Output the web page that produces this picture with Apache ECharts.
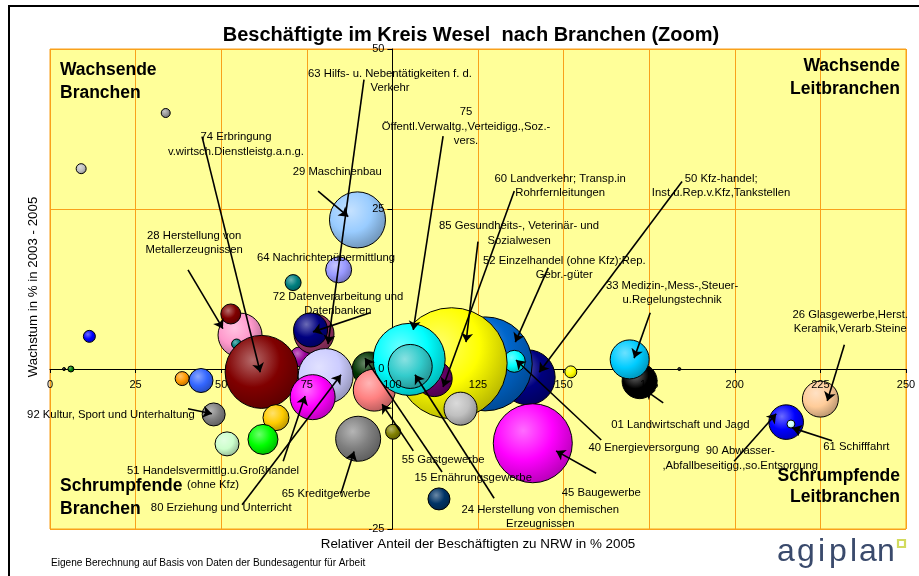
<!DOCTYPE html>
<html>
<head>
<meta charset="utf-8">
<script src="https://cdn.jsdelivr.net/npm/echarts@6/dist/echarts.min.js"></script>
<style>
  html, body { margin: 0; padding: 0; background: #ffffff; }
  #chart { width: 919px; height: 576px; }
</style>
</head>
<body>
<div id="chart"></div>
<script>
// ---------------------------------------------------------------
// Beschäftigte im Kreis Wesel nach Branchen (Zoom)
// x: relativer Anteil der Beschäftigten zu NRW in % (2005)
// y: Wachstum der Beschäftigten in % 2003 - 2005
// bubble: relative Größe (Fläche) der Branche
// Reihenfolge = Zeichenreihenfolge (hinten nach vorne)
// ---------------------------------------------------------------
const anteilNRW = [
  55.5, 54.5, 52.8, 73.0, 61.8, 66.0, 62.2, 51.7, 47.8, 38.6,
  44.1, 11.5, 6.1, 4.1, 33.8, 9.1, 77.1, 76.1, 93.2, 80.5,
  76.7, 71.0, 84.3, 89.8, 90.0, 94.7, 98.4, 100.2, 139.5, 127.1,
  135.6, 117.3, 112.2, 119.9, 104.9, 105.2, 141.0, 113.6, 152.1, 172.2,
  169.3, 183.8, 215.0, 216.4, 225.0
];
const wachstum = [
  5.3, 3.9, 8.6, 1.9, -0.45, -7.6, -11.0, -11.7, -7.1, -1.5,
  -1.8, 5.1, 0.0, 0.0, 40.0, 31.3, 5.5, 6.1, 0.0, -1.1,
  -4.4, 13.5, 15.5, 23.3, -10.9, -3.3, -1.2, -9.8, -1.3, 0.8,
  1.2, 0.9, -1.5, -6.2, 1.5, 0.4, -11.6, -20.3, -0.45, -1.9,
  1.5, 0.0, -8.3, -8.6, -4.7
];
const bubbleSize = [
  1936, 100, 400, 400, 5329, 676, 900, 576, 529, 196,
  576, 144, 36, 9, 81, 100, 1600, 1156, 1156, 3025,
  2025, 256, 676, 3136, 2025, 1764, 100, 225, 3025, 8836,
  484, 12321, 1296, 1089, 5184, 1936, 6241, 484, 144, 1225,
  1521, 9, 1197, 64, 1296
];

// Achsen-Teilung
const xTickLabels = [0, 25, 50, 75, 100, 125, 150, 175, 200, 225, 250];
const yTickLabels = [-25, 0, 25, 50];
const yAxisCrossesAt = 100;
const xAxisCrossesAt = 0;

// Beschriftungen der Branchen mit Zeigerpfeil (Datenkoordinaten)
const annotations = [
  { text: '63 Hilfs- u. Nebentätigkeiten f. d.\nVerkehr', at: [99.3, 45.0], from: [91.7, 45.2], to: [81.2, 3.9] },
  { text: '75\nÖffentl.Verwaltg.,Verteidigg.,Soz.-\nvers.', at: [121.5, 37.9], from: [114.8, 36.4], to: [106.1, 6.1] },
  { text: '74 Erbringung\nv.wirtsch.Dienstleistg.a.n.g.', at: [54.3, 35.1], from: [44.4, 36.3], to: [61.4, -0.5] },
  { text: '29 Maschinenbau', at: [83.9, 30.8], from: [78.3, 27.8], to: [87.1, 23.8] },
  { text: '28 Herstellung von\nMetallerzeugnissen', at: [42.1, 19.7], from: [40.3, 15.5], to: [50.5, 6.3] },
  { text: '64 Nachrichtenübermittlung', at: [80.6, 17.4] },
  { text: '72 Datenverarbeitung und\nDatenbanken', at: [84.1, 10.2], from: [93.5, 8.8], to: [76.8, 5.8] },
  { text: '60 Landverkehr; Transp.in\nRohrfernleitungen', at: [149.0, 28.6], from: [135.6, 27.8], to: [114.8, -2.8] },
  { text: '50 Kfz-handel;\nInst.u.Rep.v.Kfz,Tankstellen', at: [196.0, 28.6], from: [184.6, 29.3], to: [142.9, -0.5] },
  { text: '85 Gesundheits-, Veterinär- und\nSozialwesen', at: [137.0, 21.2], from: [125.0, 19.9], to: [121.5, 4.2] },
  { text: '52 Einzelhandel (ohne Kfz);Rep.\nGebr.-güter', at: [150.2, 15.8], from: [145.5, 15.8], to: [135.9, 4.2] },
  { text: '33 Medizin-,Mess-,Steuer-\nu.Regelungstechnik', at: [181.7, 11.9], from: [175.3, 8.8], to: [170.6, 1.7] },
  { text: '26 Glasgewerbe,Herst.\nKeramik,Verarb.Steine', at: [233.7, 7.4], from: [232.0, 3.8], to: [227.0, -5.0] },
  { text: '01 Landwirtschaft und Jagd', at: [184.1, -8.7], from: [179.1, -5.3], to: [173.8, -3.3] },
  { text: '40 Energieversorgung', at: [173.5, -12.3], from: [161.0, -11.1], to: [136.1, 1.4] },
  { text: '90 Abwasser-\n,Abfallbeseitigg.,so.Entsorgung', at: [201.6, -14.0], from: [199.8, -14.4], to: [212.1, -7.0] },
  { text: '61 Schifffahrt', at: [235.5, -12.2], from: [228.4, -11.2], to: [216.8, -9.2] },
  { text: '45 Baugewerbe', at: [161.0, -19.4], from: [159.5, -16.3], to: [147.8, -12.8] },
  { text: '24 Herstellung von chemischen\nErzeugnissen', at: [143.2, -23.1], from: [129.7, -20.2], to: [106.6, -0.9] },
  { text: '55 Gastgewerbe', at: [114.8, -14.2], from: [106.1, -12.8], to: [97.0, -5.5] },
  { text: '15 Ernährungsgewerbe', at: [123.6, -17.0], from: [114.5, -16.1], to: [92.0, 1.7] },
  { text: '92 Kultur, Sport und Unterhaltung', at: [17.8, -7.2], from: [40.3, -6.2], to: [47.3, -7.0] },
  { text: '51 Handelsvermittlg.u.Großhandel\n(ohne Kfz)', at: [47.6, -17.0], from: [68.1, -14.4], to: [74.5, -4.2] },
  { text: '65 Kreditgewerbe', at: [80.6, -19.5], from: [85.0, -19.4], to: [88.8, -12.9] },
  { text: '80 Erziehung und Unterricht', at: [50.0, -21.7], from: [56.1, -21.2], to: [85.0, -0.9] }
];

// ---------------------------------------------------------------
// Darstellung
// ---------------------------------------------------------------
const bubbleColors = [
  '#FF99CC', '#008080', '#800000', '#990099', '#800000', '#FFCC00', '#00FF00', '#CCFFCC', '#808080', '#FF9900',
  '#3366FF', '#0000FF', '#008000', '#000000', '#969696', '#C0C0C0', '#993366', '#000080', '#003300', '#CCCCFF',
  '#FF00FF', '#008080', '#9999FF', '#99CCFF', '#808080', '#FF8080', '#969696', '#808000', '#000080', '#0066CC',
  '#00FFFF', '#FFFF00', '#660066', '#C0C0C0', '#00FFFF', '#33CCCC', '#FF00FF', '#003366', '#FFFF00', '#000000',
  '#00CCFF', '#000000', '#0000FF', '#CCFFFF', '#FFCC99'
];

const FONT = '"Liberation Sans", Arial, sans-serif';
const GRID = { left: 50, right: 13, top: 49, bottom: 47 };
const CHART_W = 919, CHART_H = 576;
const ORANGE = '#F9A11B';

function mix(hex, target, t) {
  const a = parseInt(hex.slice(1), 16), b = parseInt(target.slice(1), 16);
  const ch = (v, s) => (v >> s) & 255;
  const m = s => Math.round(ch(a, s) + (ch(b, s) - ch(a, s)) * t);
  return 'rgb(' + m(16) + ',' + m(8) + ',' + m(0) + ')';
}
function bubbleFill(hex) {
  return {
    type: 'radial', x: 0.38, y: 0.34, r: 0.74,
    colorStops: [
      { offset: 0, color: mix(hex, '#FFFFFF', 0.42) },
      { offset: 0.5, color: hex },
      { offset: 1, color: mix(hex, '#000000', 0.32) }
    ]
  };
}

const xMin = xTickLabels[0], xMax = xTickLabels[xTickLabels.length - 1];
const xStep = xTickLabels[1] - xTickLabels[0];
const yMin = yTickLabels[0], yMax = yTickLabels[yTickLabels.length - 1];
const yStep = yTickLabels[1] - yTickLabels[0];
const plotW = CHART_W - GRID.left - GRID.right;
const plotH = CHART_H - GRID.top - GRID.bottom;
// Achsenkreuz: y-Achse bei x = 100, x-Achse bei y = 0
const yAxisOffset = -plotW * (yAxisCrossesAt - xMin) / (xMax - xMin);
const xAxisOffset = -plotH * (xAxisCrossesAt - yMin) / (yMax - yMin);

const bubbleData = anteilNRW.map((x, i) => ({
  value: [x, wachstum[i], bubbleSize[i]],
  itemStyle: { color: bubbleFill(bubbleColors[i]) }
}));

const xAxisBase = { type: 'value', min: xMin, max: xMax, interval: xStep, position: 'bottom', offset: xAxisOffset };
const yAxisBase = { type: 'value', min: yMin, max: yMax, interval: yStep, position: 'left', offset: yAxisOffset };

const chart = echarts.init(document.getElementById('chart'), null, { renderer: 'canvas' });

chart.setOption({
  animation: false,
  backgroundColor: '#FFFFFF',
  grid: Object.assign({
    show: true, backgroundColor: '#FFFF99', borderColor: ORANGE, borderWidth: 1, containLabel: false
  }, GRID),
  xAxis: [
    // Achslinie, Striche und Gitter (hinter den Blasen)
    Object.assign({}, xAxisBase, {
      z: 0,
      axisLine: { show: true, onZero: false, lineStyle: { color: '#000', width: 1 } },
      axisTick: { show: true, length: 4, lineStyle: { color: '#000' } },
      axisLabel: { show: false },
      splitLine: { show: true, lineStyle: { color: ORANGE, width: 1 } }
    }),
    // Zahlen der x-Achse (vor den Blasen)
    Object.assign({}, xAxisBase, {
      z: 10,
      axisLine: { show: false, onZero: false },
      axisTick: { show: false },
      splitLine: { show: false },
      axisLabel: {
        show: true, margin: 10, color: '#000', fontSize: 11, fontFamily: FONT,
        showMinLabel: true, showMaxLabel: true
      }
    })
  ],
  yAxis: [
    Object.assign({}, yAxisBase, {
      z: 0,
      axisLine: { show: true, onZero: false, lineStyle: { color: '#000', width: 1 } },
      axisTick: { show: true, length: 5, lineStyle: { color: '#000' } },
      axisLabel: { show: false },
      splitLine: { show: true, lineStyle: { color: ORANGE, width: 1 } }
    }),
    Object.assign({}, yAxisBase, {
      z: 10,
      axisLine: { show: false, onZero: false },
      axisTick: { show: false },
      splitLine: { show: false },
      axisLabel: {
        show: true, margin: 8, color: '#000', fontSize: 11, fontFamily: FONT,
        showMinLabel: true, showMaxLabel: true
      }
    })
  ],
  series: [
    {
      type: 'scatter',
      xAxisIndex: 0, yAxisIndex: 0,
      z: 2,
      silent: true,
      symbol: 'circle',
      symbolSize: v => Math.sqrt(v[2]),
      itemStyle: { borderColor: '#000', borderWidth: 1, opacity: 1 },
      data: bubbleData
    },
    {
      type: 'lines',
      coordinateSystem: 'cartesian2d',
      xAxisIndex: 0, yAxisIndex: 0,
      z: 5,
      silent: true,
      symbol: ['none', 'arrow'],
      symbolSize: 9,
      lineStyle: { color: '#000', width: 1.6, opacity: 1, curveness: 0 },
      data: annotations.filter(a => a.from).map(a => ({ coords: [a.from, a.to] }))
    }
  ]
});

// Texte: Branchen-Beschriftungen über die Achsen positioniert
const labelGraphics = annotations.map(a => {
  const p = chart.convertToPixel({ xAxisIndex: 0, yAxisIndex: 0 }, a.at);
  return {
    type: 'text', x: p[0], y: p[1], z: 20, silent: true,
    style: {
      text: a.text, fill: '#000', font: '11.3px ' + FONT,
      align: 'center', verticalAlign: 'middle', lineHeight: 14.5
    }
  };
});

const boldCorner = 'bold 17.5px ' + FONT;
const logoLetters = ['a', 'g', 'i', 'p', 'l', 'a', 'n'];
const logoLeft = [777, 797, 818, 829, 850, 859, 877];

chart.setOption({
  graphic: [
    // Rahmen
    { type: 'rect', z: 30, silent: true, shape: { x: 9, y: 6, width: 1000, height: 1000 },
      style: { fill: 'none', stroke: '#000', lineWidth: 2 } },
    // Titel
    { type: 'text', x: 471, y: 35, z: 30, silent: true,
      style: { text: 'Beschäftigte im Kreis Wesel  nach Branchen (Zoom)', font: 'bold 20px ' + FONT,
        fill: '#000', align: 'center', verticalAlign: 'middle' } },
    // Quadranten
    { type: 'text', x: 60, y: 81.5, z: 20, silent: true,
      style: { text: 'Wachsende\nBranchen', font: boldCorner, fill: '#000', align: 'left', verticalAlign: 'middle', lineHeight: 23 } },
    { type: 'text', x: 900, y: 77.5, z: 20, silent: true,
      style: { text: 'Wachsende\nLeitbranchen', font: boldCorner, fill: '#000', align: 'right', verticalAlign: 'middle', lineHeight: 23 } },
    { type: 'text', x: 60, y: 497.5, z: 20, silent: true,
      style: { text: 'Schrumpfende\nBranchen', font: boldCorner, fill: '#000', align: 'left', verticalAlign: 'middle', lineHeight: 23 } },
    { type: 'text', x: 900, y: 486.5, z: 20, silent: true,
      style: { text: 'Schrumpfende\nLeitbranchen', font: boldCorner, fill: '#000', align: 'right', verticalAlign: 'middle', lineHeight: 21 } },
    // Achsentitel
    { type: 'text', x: 478, y: 544, z: 20, silent: true,
      style: { text: 'Relativer Anteil der Beschäftigten zu NRW in % 2005', font: '13.4px ' + FONT,
        fill: '#000', align: 'center', verticalAlign: 'middle' } },
    { type: 'text', x: 33, y: 287, rotation: Math.PI / 2, z: 20, silent: true,
      style: { text: 'Wachstum in % in 2003 - 2005', font: '13.3px ' + FONT,
        fill: '#000', align: 'center', verticalAlign: 'middle' } },
    // Quelle
    { type: 'text', x: 51, y: 563, z: 20, silent: true,
      style: { text: 'Eigene Berechnung auf Basis von Daten der Bundesagentur für Arbeit', font: '10.1px ' + FONT,
        fill: '#000', align: 'left', verticalAlign: 'middle' } },
    // Logo
    ...logoLetters.map((ch, i) => ({
      type: 'text', x: logoLeft[i], y: 552, z: 20, silent: true,
      style: { text: ch, font: '32px ' + FONT, fill: '#3A4A6C', align: 'left', verticalAlign: 'middle' }
    })),
    { type: 'rect', z: 20, silent: true, shape: { x: 898, y: 540, width: 7, height: 7 },
      style: { fill: 'none', stroke: '#D2DB5E', lineWidth: 2.2 } },
    ...labelGraphics
  ]
});
</script>
</body>
</html>
